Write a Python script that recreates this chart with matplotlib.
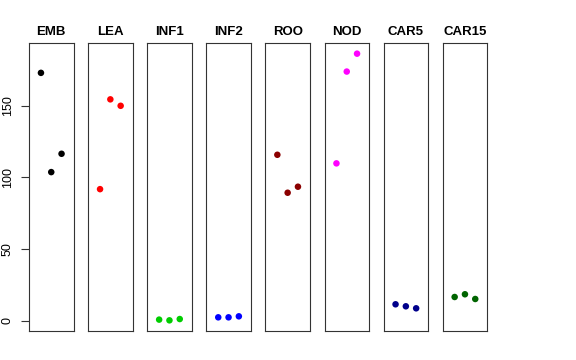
import matplotlib
matplotlib.use("Agg")
import matplotlib.pyplot as plt

plt.rcParams['font.family'] = ['Liberation Sans', 'DejaVu Sans']

categories = ["EMB", "LEA", "INF1", "INF2", "ROO", "NOD", "CAR5", "CAR15"]
colors = ["#000000", "#FF0000", "#00CD00", "#0000FF", "#8B0000", "#FF00FF", "#00008B", "#006400"]
values = {
    "EMB":   [173.0, 103.7, 116.5],
    "LEA":   [91.8, 154.5, 150.0],
    "INF1":  [0.7, 0.2, 1.1],
    "INF2":  [2.3, 2.3, 3.0],
    "ROO":   [115.8, 89.3, 93.5],
    "NOD":   [109.8, 173.9, 186.4],
    "CAR5":  [11.4, 10.0, 8.6],
    "CAR15": [16.5, 18.4, 15.1],
}
yticks = [0, 50, 100, 150]
xpos = [1, 2, 3]

W, H = 576, 360
fig = plt.figure(figsize=(W / 100, H / 100), dpi=100)

allv = [v for c in categories for v in values[c]]
lo, hi = min(allv), max(allv)
pad = 0.04 * (hi - lo)
ylim = (lo - pad, hi + pad)

left0, pw, step = 29, 44.5, 59.1
top, bottom = 43, 331
for i, cat in enumerate(categories):
    l = left0 + i * step
    ax = fig.add_axes([l / W, (H - bottom) / H, pw / W, (bottom - top) / H])
    ax.scatter(xpos, values[cat], s=22, color=colors[i], edgecolors='none', zorder=3)
    ax.set_xlim(-0.16, 4.16)
    ax.set_ylim(*ylim)
    ax.set_xticks([])
    for sp in ax.spines.values():
        sp.set_linewidth(0.8)
        sp.set_color('#333333')
    ax.set_title(cat, fontsize=9.5, fontweight='bold', pad=6)
    if i == 0:
        ax.set_yticks(yticks)
        ax.set_yticklabels([str(t) for t in yticks], rotation=90, va='center', fontsize=9)
        ax.tick_params(axis='y', length=6, width=0.8, pad=5, colors='#333333', labelcolor='black')
    else:
        ax.set_yticks([])

fig.savefig("out.png", dpi=100)
